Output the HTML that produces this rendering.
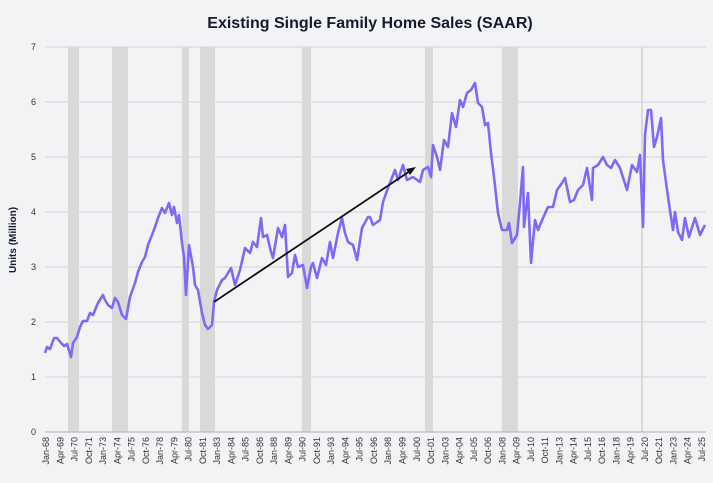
<!DOCTYPE html>
<html><head><meta charset="utf-8"><style>
html,body{margin:0;padding:0;background:#f2f3f5;}
svg{display:block;font-family:"Liberation Sans",sans-serif;}
</style></head><body>
<svg width="713" height="483" viewBox="0 0 713 483" xmlns="http://www.w3.org/2000/svg">
<rect width="713" height="483" fill="#f2f3f5"/>
<text x="370" y="28" text-anchor="middle" font-size="16" font-weight="bold" fill="#1a1a2e">Existing Single Family Home Sales (SAAR)</text>
<text transform="translate(16,240) rotate(-90)" text-anchor="middle" font-size="10" font-weight="bold" fill="#1a1a2e">Units (Million)</text>
<g stroke="#d8d9df" stroke-width="1.2">
<line x1="45" x2="706" y1="47" y2="47"/><line x1="45" x2="706" y1="102" y2="102"/><line x1="45" x2="706" y1="157" y2="157"/><line x1="45" x2="706" y1="212" y2="212"/><line x1="45" x2="706" y1="267" y2="267"/><line x1="45" x2="706" y1="322" y2="322"/><line x1="45" x2="706" y1="377" y2="377"/>
</g>
<g fill="#d9d9d9">
<rect x="68" y="47" width="11" height="385"/><rect x="112" y="47" width="16" height="385"/><rect x="182" y="47" width="7" height="385"/><rect x="200" y="47" width="15" height="385"/><rect x="302" y="47" width="9" height="385"/><rect x="425" y="47" width="8" height="385"/><rect x="502" y="47" width="16" height="385"/><rect x="641" y="47" width="2" height="385"/>
</g>
<line x1="45" x2="706" y1="432" y2="432" stroke="#b8bac4" stroke-width="1.2"/>
<g font-size="9" fill="#333" text-anchor="end">
<text x="36" y="50">7</text><text x="36" y="105">6</text><text x="36" y="160">5</text><text x="36" y="215">4</text><text x="36" y="270">3</text><text x="36" y="325">2</text><text x="36" y="380">1</text><text x="36" y="435">0</text>
</g>
<g font-size="9" fill="#333" text-anchor="end">
<text transform="translate(49,437) rotate(-90)">Jan-68</text>
<text transform="translate(63.3,437) rotate(-90)">Apr-69</text>
<text transform="translate(77.5,437) rotate(-90)">Jul-70</text>
<text transform="translate(91.8,437) rotate(-90)">Oct-71</text>
<text transform="translate(106,437) rotate(-90)">Jan-73</text>
<text transform="translate(120.3,437) rotate(-90)">Apr-74</text>
<text transform="translate(134.6,437) rotate(-90)">Jul-75</text>
<text transform="translate(148.8,437) rotate(-90)">Oct-76</text>
<text transform="translate(163.1,437) rotate(-90)">Jan-78</text>
<text transform="translate(177.3,437) rotate(-90)">Apr-79</text>
<text transform="translate(191.6,437) rotate(-90)">Jul-80</text>
<text transform="translate(205.9,437) rotate(-90)">Oct-81</text>
<text transform="translate(220.1,437) rotate(-90)">Jan-83</text>
<text transform="translate(234.4,437) rotate(-90)">Apr-84</text>
<text transform="translate(248.6,437) rotate(-90)">Jul-85</text>
<text transform="translate(262.9,437) rotate(-90)">Oct-86</text>
<text transform="translate(277.2,437) rotate(-90)">Jan-88</text>
<text transform="translate(291.4,437) rotate(-90)">Apr-89</text>
<text transform="translate(305.7,437) rotate(-90)">Jul-90</text>
<text transform="translate(319.9,437) rotate(-90)">Oct-91</text>
<text transform="translate(334.2,437) rotate(-90)">Jan-93</text>
<text transform="translate(348.5,437) rotate(-90)">Apr-94</text>
<text transform="translate(362.7,437) rotate(-90)">Jul-95</text>
<text transform="translate(377,437) rotate(-90)">Oct-96</text>
<text transform="translate(391.2,437) rotate(-90)">Jan-98</text>
<text transform="translate(405.5,437) rotate(-90)">Apr-99</text>
<text transform="translate(419.8,437) rotate(-90)">Jul-00</text>
<text transform="translate(434,437) rotate(-90)">Oct-01</text>
<text transform="translate(448.3,437) rotate(-90)">Jan-03</text>
<text transform="translate(462.5,437) rotate(-90)">Apr-04</text>
<text transform="translate(476.8,437) rotate(-90)">Jul-05</text>
<text transform="translate(491.1,437) rotate(-90)">Oct-06</text>
<text transform="translate(505.3,437) rotate(-90)">Jan-08</text>
<text transform="translate(519.6,437) rotate(-90)">Apr-09</text>
<text transform="translate(533.8,437) rotate(-90)">Jul-10</text>
<text transform="translate(548.1,437) rotate(-90)">Oct-11</text>
<text transform="translate(562.4,437) rotate(-90)">Jan-13</text>
<text transform="translate(576.6,437) rotate(-90)">Apr-14</text>
<text transform="translate(590.9,437) rotate(-90)">Jul-15</text>
<text transform="translate(605.1,437) rotate(-90)">Oct-16</text>
<text transform="translate(619.4,437) rotate(-90)">Jan-18</text>
<text transform="translate(633.7,437) rotate(-90)">Apr-19</text>
<text transform="translate(647.9,437) rotate(-90)">Jul-20</text>
<text transform="translate(662.2,437) rotate(-90)">Oct-21</text>
<text transform="translate(676.4,437) rotate(-90)">Jan-23</text>
<text transform="translate(690.7,437) rotate(-90)">Apr-24</text>
<text transform="translate(705,437) rotate(-90)">Jul-25</text>
</g>
<polyline fill="none" stroke="#8268f5" stroke-width="2.6" stroke-linejoin="round" points="45,353 47,347 50,349 54,338 57,338 61,343 64,346 67,344 71,357 73,343 77,337 80,327 83,321 87,321 90,313 93,315 98,303 103,295 105,300 108,305 112,308 115,298 118,302 122,315 126,319 130,297 135,283 138,272 142,262 145,257 148,245 152,235 155,227 158,218 162,208 165,213 169,203 172,215 174,207 177,223 179,215 182,243 184,257 186,295 189,245 193,267 195,285 198,290 202,313 205,325 208,329 212,325 214,302 217,290 222,280 225,278 231,268 235,285 240,270 245,248 250,253 253,242 257,247 261,218 263,237 267,235 271,252 273,258 278,228 282,237 285,225 288,277 292,273 295,255 298,267 303,265 307,288 311,267 313,263 317,278 322,258 326,265 330,242 333,258 338,233 342,218 345,233 348,242 353,245 357,260 362,228 368,217 370,217 373,225 380,220 383,202 388,188 395,170 398,180 403,165 407,180 413,177 420,182 423,170 428,167 431,177 433,145 437,157 440,170 444,140 448,147 452,113 456,127 460,100 463,107 467,93 471,90 475,83 478,103 482,107 485,125 488,123 491,153 494,177 498,213 502,230 507,230 509,223 512,243 517,235 520,203 523,167 524,227 528,193 531,263 535,220 538,230 543,218 548,207 553,207 557,190 562,183 565,178 570,202 574,200 578,190 583,185 587,168 592,200 593,168 598,165 603,157 607,165 611,168 615,160 620,168 627,190 632,165 637,172 640,155 643,227 645,135 648,110 651,110 654,147 657,137 661,118 663,160 668,197 673,230 675,212 678,232 682,240 685,218 689,237 695,218 700,235 705,225"/>
<line x1="214" y1="302" x2="410" y2="171" stroke="#111" stroke-width="1.8"/>
<polygon points="416,167 406,169 410,175" fill="#111"/>
</svg>
</body></html>
